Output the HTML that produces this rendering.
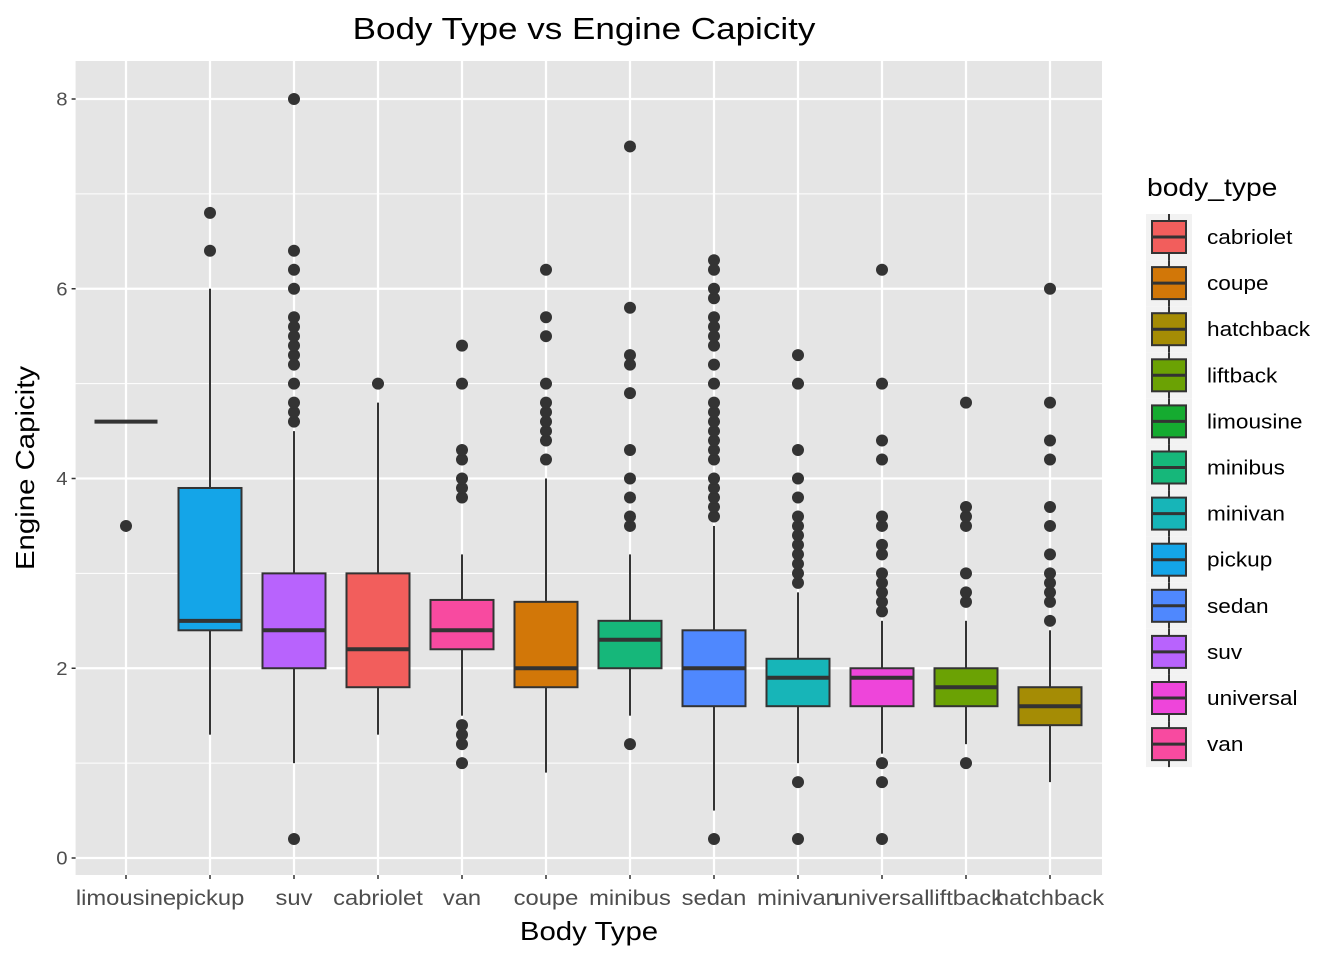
<!DOCTYPE html>
<html><head><meta charset="utf-8"><style>
html,body{margin:0;padding:0;background:#fff;}
svg{display:block;font-family:"Liberation Sans",Arial,sans-serif;}
</style></head><body>
<svg id="chart" width="1344" height="960" viewBox="0 0 1344 960" xmlns="http://www.w3.org/2000/svg">
<rect x="0" y="0" width="1344" height="960" fill="#fff"/>
<text class="fit" x="584" y="39" font-size="31" text-anchor="middle" fill="#000">Body Type vs Engine Capicity</text>
<rect x="75.6" y="61" width="1026.4" height="814" fill="#e5e5e5"/>
<g id="grid"></g>
<g id="marks"></g>
<g id="axes"></g>
<text class="fit" x="589" y="940" font-size="26" text-anchor="middle" fill="#000">Body Type</text>
<text class="fit" transform="translate(34,468) rotate(-90)" font-size="26" text-anchor="middle" fill="#000">Engine Capicity</text>
<g id="legend"></g>
</svg>
<script>
const categories=["limousine","pickup","suv","cabriolet","van","coupe","minibus","sedan","minivan","universal","liftback","hatchback"];
const q1=[4.6,2.4,2.0,1.8,2.2,1.8,2.0,1.6,1.6,1.6,1.6,1.4];
const medians=[4.6,2.5,2.4,2.2,2.4,2.0,2.3,2.0,1.9,1.9,1.8,1.6];
const q3=[4.6,3.9,3.0,3.0,2.72,2.7,2.5,2.4,2.1,2.0,2.0,1.8];
const whiskerLow=[4.6,1.3,1.0,1.3,1.5,0.9,1.5,0.5,1.0,1.1,1.2,0.8];
const whiskerHigh=[4.6,6.0,4.5,4.8,3.2,4.0,3.2,3.5,2.8,2.5,2.5,2.4];
const outliers=[
[3.5],
[6.4,6.8],
[0.2,4.6,4.7,4.8,5.0,5.2,5.3,5.4,5.5,5.6,5.7,6.0,6.2,6.4,8.0],
[5.0],
[1.0,1.2,1.3,1.4,3.8,3.9,4.0,4.2,4.3,5.0,5.4],
[4.2,4.4,4.5,4.6,4.7,4.8,5.0,5.5,5.7,6.2],
[1.2,3.5,3.6,3.8,4.0,4.3,4.9,5.2,5.3,5.8,7.5],
[0.2,3.6,3.7,3.8,3.9,4.0,4.2,4.3,4.4,4.5,4.6,4.7,4.8,5.0,5.2,5.4,5.5,5.6,5.7,5.9,6.0,6.2,6.3],
[0.2,0.8,2.9,3.0,3.1,3.2,3.3,3.4,3.5,3.6,3.8,4.0,4.3,5.0,5.3],
[0.2,0.8,1.0,2.6,2.7,2.8,2.9,3.0,3.2,3.3,3.5,3.6,4.2,4.4,5.0,6.2],
[1.0,2.7,2.8,3.0,3.5,3.6,3.7,4.8],
[2.5,2.7,2.8,2.9,3.0,3.2,3.5,3.7,4.2,4.4,4.8,6.0]
];
const yTicks=[0,2,4,6,8];
const legendNames=["cabriolet","coupe","hatchback","liftback","limousine","minibus","minivan","pickup","sedan","suv","universal","van"];
const legendColors=["#F25E5C","#D27708","#A58C05","#6BA204","#15AB30","#16B77A","#17B5B8","#14A5E8","#4F88FE","#B863FD","#EE45DA","#F84AA0"];

const NS="http://www.w3.org/2000/svg";
function mk(tag,attrs,parent){const e=document.createElementNS(NS,tag);for(const k in attrs)e.setAttribute(k,attrs[k]);parent.appendChild(e);return e;}
const xS=i=>126+84*i;
const yS=v=>858-94.875*v;
const grid=document.getElementById('grid'),marks=document.getElementById('marks'),axes=document.getElementById('axes'),legend=document.getElementById('legend');
const L=75.6,R=1102,T=61,B=875;
for(let k=0;k<yTicks.length-1;k++){const v=(yTicks[k]+yTicks[k+1])/2;const g=mk('line',{x1:L,x2:R,y1:yS(v),y2:yS(v),stroke:'#fff','stroke-width':1},grid);
}
yTicks.forEach(v=>{const g=mk('line',{x1:L,x2:R,y1:yS(v),y2:yS(v),stroke:'#fff','stroke-width':2.2},grid);

const t=mk('line',{x1:L-4,x2:L,y1:yS(v),y2:yS(v),stroke:'#333','stroke-width':1.5},axes);

const lb=mk('text',{x:L-8,y:yS(v)+6.5,'font-size':18,'text-anchor':'end',fill:'#4d4d4d','class':'fit'},axes);lb.textContent=v;
});
categories.forEach((c,i)=>{const x=xS(i);
const g=mk('line',{x1:x,x2:x,y1:T,y2:B,stroke:'#fff','stroke-width':2.2},grid);

const t=mk('line',{x1:x,x2:x,y1:B,y2:B+4,stroke:'#333','stroke-width':1.5},axes);

const lb=mk('text',{x:x,y:905,'font-size':21,'text-anchor':'middle',fill:'#4d4d4d','class':'fit'},axes);lb.textContent=c;

const col=legendColors[legendNames.indexOf(c)];
const grp=mk('g',{},marks);

const hw=31.5;
mk('line',{x1:x,x2:x,y1:yS(whiskerHigh[i]),y2:yS(q3[i]),stroke:'#333','stroke-width':2},grp);
mk('line',{x1:x,x2:x,y1:yS(q1[i]),y2:yS(whiskerLow[i]),stroke:'#333','stroke-width':2},grp);
mk('rect',{x:x-hw,y:yS(q3[i]),width:2*hw,height:Math.max(0,yS(q1[i])-yS(q3[i])),fill:col,stroke:'#333','stroke-width':2},grp);
mk('line',{x1:x-hw,x2:x+hw,y1:yS(medians[i]),y2:yS(medians[i]),stroke:'#333','stroke-width':4},grp);
outliers[i].forEach(v=>{const p=mk('circle',{cx:x,cy:yS(v),r:6,fill:'#333'},grp);
});
});
const lt=mk('text',{x:1147,y:196,'font-size':25,fill:'#000','class':'fit'},legend);lt.textContent='body_type';

legendNames.forEach((n,k)=>{const y=214+46.1*k;
const eg=mk('g',{},legend);

mk('rect',{x:1146,y:y,width:46,height:46,fill:'#f2f2f2'},eg);
mk('line',{x1:1169,x2:1169,y1:y,y2:y+46,stroke:'#333','stroke-width':2},eg);
mk('rect',{x:1152,y:y+7,width:34,height:32,fill:legendColors[k],stroke:'#333','stroke-width':2},eg);
mk('line',{x1:1152,x2:1186,y1:y+23,y2:y+23,stroke:'#333','stroke-width':3},eg);
const tx=mk('text',{x:1207,y:y+30,'font-size':20,fill:'#000','class':'fit'},eg);tx.textContent=n;});
document.querySelectorAll('text.fit').forEach(t=>{const w=t.getComputedTextLength();t.setAttribute('textLength',(w*1.13).toFixed(1));t.setAttribute('lengthAdjust','spacingAndGlyphs');});
</script>
</body></html>
